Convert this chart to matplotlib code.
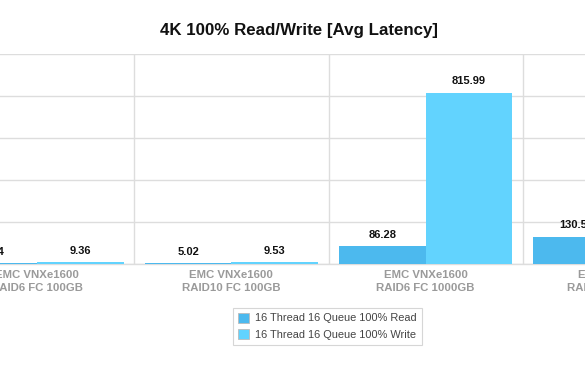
import matplotlib
matplotlib.use("Agg")
import matplotlib.pyplot as plt
import matplotlib.transforms as mtransforms
import numpy as np

categories = ["EMC VNXe1600\nRAID6 FC 100GB", "EMC VNXe1600\nRAID10 FC 100GB",
              "EMC VNXe1600\nRAID6 FC 1000GB", "EMC VNXe1600\nRAID10 FC 1000GB"]
read_vals = [5.04, 5.02, 86.28, 130.54]
write_vals = [9.36, 9.53, 815.99, 260.0]
series_names = ["16 Thread 16 Queue 100% Read", "16 Thread 16 Queue 100% Write"]
yticks = [0, 200, 400, 600, 800, 1000]

plt.rcParams['font.family'] = ['Liberation Sans', 'DejaVu Sans']

fig = plt.figure(figsize=(5.85, 3.77), dpi=100)
ax = fig.add_axes([0, 0.299, 1, 0.557])

x = np.arange(len(categories))
w = 0.446
c_read = "#4CB9EE"
c_write = "#62D3FE"
b1 = ax.bar(x - w/2, read_vals, w, color=c_read, label=series_names[0], zorder=3)
b2 = ax.bar(x + w/2, write_vals, w, color=c_write, label=series_names[1], zorder=3)

for bars, vals in ((b1, read_vals), (b2, write_vals)):
    for b, v in zip(bars, vals):
        ax.annotate(f"{v:.2f}", (b.get_x() + b.get_width()/2, v), xytext=(0, 8.3),
                    textcoords="offset points", ha="center", va="center",
                    fontsize=8, fontweight="bold", color="#111111",
                    annotation_clip=False)

ax.set_yticks(yticks)
ax.set_yticklabels([])
ax.tick_params(axis="y", length=0)
ax.set_xticks(x[:-1] + 0.5)
ax.set_xticklabels([])
ax.tick_params(axis="x", length=0)
ax.set_xlim(-0.192, 2.821)
ax.set_ylim(0, 1000)
ax.grid(axis="both", color="#DDDDDD", linewidth=1, zorder=0)
for s in ("top", "left", "right"):
    ax.spines[s].set_visible(False)
ax.spines["bottom"].set_color("#DDDDDD")
ax.spines["bottom"].set_linewidth(1)

trans = mtransforms.blended_transform_factory(ax.transData, ax.transAxes)
for xi, lab in zip(x, categories):
    ax.text(xi, -0.026, lab, transform=trans, ha="center", va="top",
            fontsize=8.2, color="#9A9A9A", fontweight="bold", linespacing=1.45,
            clip_on=False)

fig.text(0.511, 0.918, "4K 100% Read/Write [Avg Latency]", ha="center", va="center",
         fontsize=12.2, fontweight="bold", color="#111111")

leg = fig.legend(handles=[b1, b2], loc="center", bbox_to_anchor=(0.56, 0.134),
                 fontsize=7.9, frameon=True, fancybox=False, edgecolor="#CCCCCC",
                 handlelength=1.0, handleheight=1.0, handletextpad=0.55,
                 borderpad=0.45, labelspacing=0.55, labelcolor="#444444",
                 borderaxespad=0)
leg.get_frame().set_linewidth(0.8)
for p in leg.get_patches():
    p.set_edgecolor("#BBBBBB")
    p.set_linewidth(0.6)

fig.savefig("out.png", dpi=100)
